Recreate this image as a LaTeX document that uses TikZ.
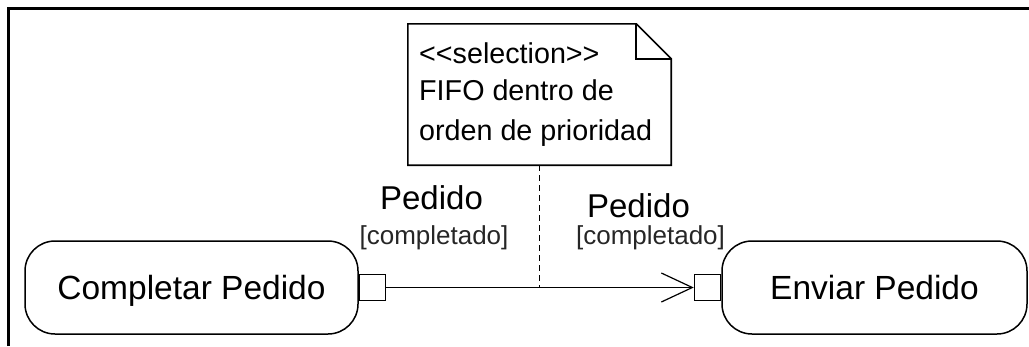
\documentclass[tikz,border=0pt]{standalone}
\usepackage{fontspec}
\setmainfont{Liberation Sans}
\usetikzlibrary{arrows.meta}
\begin{document}
\begin{tikzpicture}[x=1pt,y=-1pt,
  act/.style={draw, line width=1.5pt, rounded corners=30pt, minimum height=93pt, inner sep=0pt, text depth=0pt, font=\fontsize{33.5}{38}\selectfont},
  port/.style={draw, line width=1.5pt, minimum size=26pt, inner sep=0pt, fill=white},
  notetxt/.style={anchor=base west, inner sep=0pt, font=\fontsize{28.7}{34}\selectfont},
  objname/.style={anchor=base, inner sep=0pt, font=\fontsize{33}{38}\selectfont},
  objstate/.style={anchor=base, inner sep=0pt, text=black!85, font=\fontsize{26}{30}\selectfont},
  frameline/.style={line width=3pt},
  noteline/.style={line width=1.6pt, line join=miter},
  flow/.style={line width=1.2pt, -{Straight Barb[length=31pt,width=29pt,line width=1.2pt]}},
  anchorline/.style={line width=1pt, dash pattern=on 6pt off 4pt}
]
\useasboundingbox (0,0) rectangle (1029,346);
\draw[frameline] (8.5,346) -- (8.5,8.5) -- (1029,8.5);

% activities
\node[act, minimum width=333pt] (a1) at (191.5,287.5) {Completar Pedido};
\node[act, minimum width=305pt] (a2) at (874.5,287.5) {Enviar Pedido};

% pins
\node[port, anchor=west] (p1) at (a1.east) {};
\node[port, anchor=east] (p2) at (a2.west) {};

% object flow
\draw[flow] (p1.east) -- (p2.west);

% note
\node[minimum width=263pt, minimum height=141pt, inner sep=0pt] (note) at (539.5,94.5) {};
\draw[noteline] (note.north west) -- ([xshift=-35pt]note.north east) -- ([yshift=-35pt]note.north east) -- (note.south east) -- (note.south west) -- cycle;
\draw[noteline] ([xshift=-35pt]note.north east) -- ([xshift=-35pt,yshift=-35pt]note.north east) -- ([yshift=-35pt]note.north east);
\node[notetxt] (n1) at (419,63) {<\kern0pt<selection>\kern0pt>};
\node[notetxt] (n2) at (419,100) {FIFO dentro de};
\node[notetxt] (n3) at (419,140) {orden de prioridad};

\coordinate (j) at (note.south |- p1.east);
\draw[anchorline] (note.south) -- (j);

% pin labels
\node[objname] (o1) at (431.5,209) {Pedido};
\node[objstate] (s1) at (434,244) {[completado]};
\node[objname] (o2) at (638.5,217) {Pedido};
\node[objstate] (s2) at (650.5,244) {[completado]};
\end{tikzpicture}
\end{document}
